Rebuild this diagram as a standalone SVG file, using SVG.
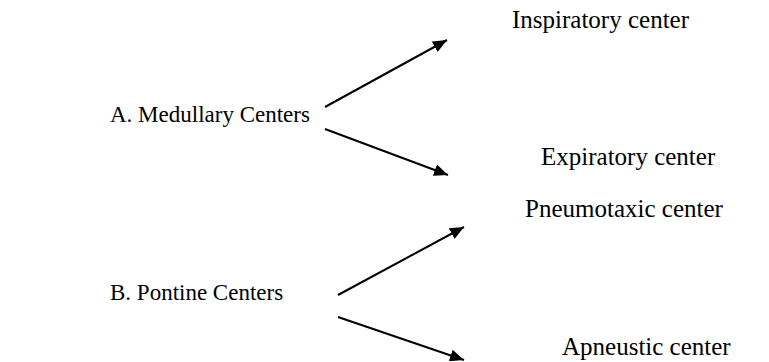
<svg xmlns="http://www.w3.org/2000/svg" width="769" height="362" viewBox="0 0 769 362">
<defs>
<style>
text{font-family:"Liberation Serif","Times New Roman",serif;font-size:25px;fill:#000}
.l{font-size:23px}
.c{stroke:#000;stroke-width:2;fill:none;marker-end:url(#ah)}
</style>
<marker id="ah" viewBox="0 0 14 12" refX="14" refY="6" markerWidth="14" markerHeight="12" markerUnits="userSpaceOnUse" orient="auto"><path d="M0,0 L14,6 L0,12 z" fill="#000"/></marker>
</defs>
<rect width="769" height="362" fill="#fff"/>
<g id="medullary"><text class="l" x="110" y="122">A. Medullary Centers</text></g>
<g id="inspiratory"><text x="512" y="28">Inspiratory center</text></g>
<g id="expiratory"><text x="541" y="165">Expiratory center</text></g>
<g id="pontine"><text class="l" x="110" y="300">B. Pontine Centers</text></g>
<g id="pneumotaxic"><text x="525" y="217">Pneumotaxic center</text></g>
<g id="apneustic"><text x="562" y="355">Apneustic center</text></g>
<g id="connectors">
<path class="c" d="M325,107 L447,40"/>
<path class="c" d="M325,129 L448,175"/>
<path class="c" d="M338,295 L464,227"/>
<path class="c" d="M338,317 L464,360"/>
</g>
</svg>
